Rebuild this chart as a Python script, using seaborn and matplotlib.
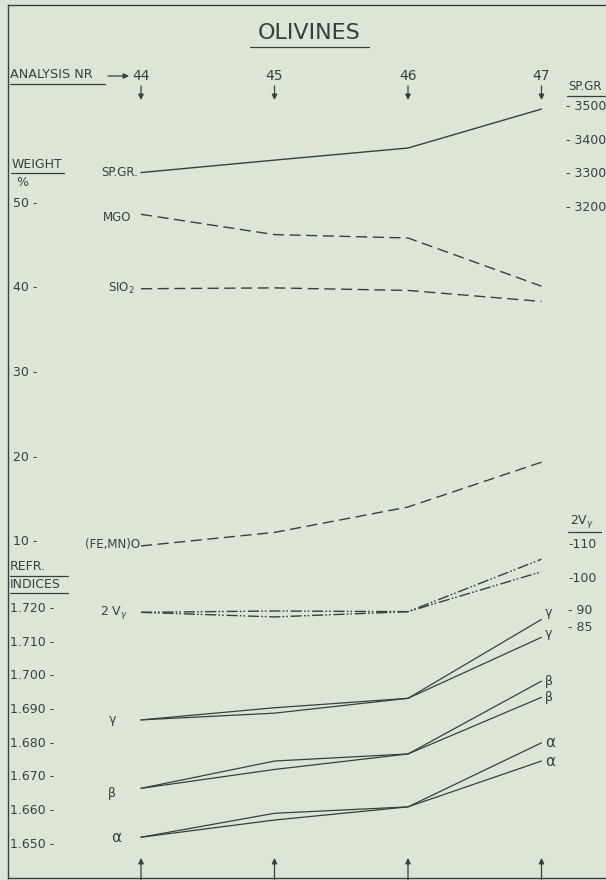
import matplotlib
matplotlib.use("Agg")
import matplotlib.pyplot as plt
import matplotlib.transforms as mtransforms
from matplotlib.lines import Line2D
import seaborn as sns

# analysis numbers along the top
analysis = [44, 45, 46, 47]

# specific gravity (right scale)
sp_gr = [3304, 3341, 3377, 3493]

# weight % (left scale)
mgo = [48.7, 46.3, 45.9, 40.2]
sio2 = [39.9, 40.0, 39.7, 38.4]
femno = [9.5, 11.1, 14.1, 19.4]

# optic angle 2V gamma, two determinations
two_v_a = [89.6, 90.0, 89.8, 105.7]
two_v_b = [89.6, 88.2, 89.8, 101.9]

# refractive indices, two determinations each
gamma_a = [1.6869, 1.6905, 1.6933, 1.7167]
gamma_b = [1.6869, 1.6889, 1.6933, 1.7114]
beta_a = [1.6666, 1.6747, 1.6768, 1.6984]
beta_b = [1.6666, 1.6722, 1.6768, 1.6936]
alpha_a = [1.6521, 1.6592, 1.6611, 1.6801]
alpha_b = [1.6521, 1.6572, 1.6611, 1.6747]

weight_ticks = [50, 40, 30, 20, 10]
refr_ticks = [1.720, 1.710, 1.700, 1.690, 1.680, 1.670, 1.660, 1.650]
spgr_ticks = [3500, 3400, 3300, 3200]
twov_ticks = [110, 100, 90, 85]
twov_labels = ["-110", "-100", "- 90", "- 85"]

INK = "#34423f"
PAPER = "#dde5d7"
W, H = 606, 880
L, R, T, B = 8, 612, 5, 878          # frame in pixels (right edge runs off the sheet)

sns.set_style("white")
plt.rcParams["font.family"] = ["DejaVu Sans"]

fig = plt.figure(figsize=(W / 100, H / 100), dpi=100, facecolor=PAPER)
ax = fig.add_axes([L / W, 1 - B / H, (R - L) / W, (B - T) / H])
ax.set_facecolor(PAPER)
ax_sg = ax.twinx()
ax_ri = ax.twinx()
ax_2v = ax.twinx()


def ylims(v1, p1, v2, p2):
    # value v1 sits at pixel row p1, v2 at p2
    s = (v1 - v2) / (p2 - p1)
    return v1 - (B - p1) * s, v1 + (p1 - T) * s


solid = dict(color=INK, lw=1.0, errorbar=None)
dash = (0, (8, 4))
dashdotdot = (0, (8, 1.6, 1.2, 1.4, 1.2, 2))

sns.lineplot(x=analysis, y=sp_gr, ax=ax_sg, linestyle="-", **solid)
sns.lineplot(x=analysis, y=mgo, ax=ax, linestyle=dash, **solid)
sns.lineplot(x=analysis, y=sio2, ax=ax, linestyle=dash, **solid)
sns.lineplot(x=analysis, y=femno, ax=ax, linestyle=dash, **solid)
for vals in (two_v_a, two_v_b):
    sns.lineplot(x=analysis, y=vals, ax=ax_2v, linestyle=dashdotdot, **solid)
for vals in (gamma_a, gamma_b, beta_a, beta_b, alpha_a, alpha_b):
    sns.lineplot(x=analysis, y=vals, ax=ax_ri, linestyle="-", color=INK, lw=0.9, errorbar=None)

s = 3 / (541.5 - 141)
ax.set_xlim(44 - (141 - L) * s, 44 + (R - 141) * s)
ax.set_ylim(*ylims(50, 203.3, 10, 541.7))
ax_sg.set_ylim(*ylims(3500, 106.7, 3200, 207.5))
ax_ri.set_ylim(*ylims(1.720, 608.3, 1.650, 844.3))
ax_2v.set_ylim(*ylims(90, 611, 110, 545))

for a in (ax, ax_sg, ax_ri, ax_2v):
    a.set_xticks([])
    a.set_yticks([])
    a.set_xlabel("")
    a.set_ylabel("")
    for sp in a.spines.values():
        sp.set_visible(False)
for side in ("left", "top", "bottom"):
    ax.spines[side].set_visible(True)
    ax.spines[side].set_color(INK)
    ax.spines[side].set_linewidth(1.0)

pix = mtransforms.Affine2D().scale(1 / W, -1 / H).translate(0, 1) + fig.transFigure
tk = dict(color=INK, fontsize=9, va="center")
arrow = dict(arrowstyle="-|>", color=INK, lw=0.9, mutation_scale=8, shrinkA=0, shrinkB=0)


def text(x, y, s, **kw):
    fig.text(x, y, s, transform=pix, **{**tk, **kw})


def uline(x0, x1, y):
    fig.add_artist(Line2D([x0, x1], [y, y], transform=pix, color=INK, lw=0.9))


# title and header row
text(309, 33, "OLIVINES", fontsize=16, ha="center")
uline(250, 369, 47)
text(10, 75, "ANALYSIS NR", fontsize=9.2)
uline(10, 105, 84)
ax.annotate("", xy=(129, 76), xytext=(108, 76), xycoords=pix, textcoords=pix, arrowprops=arrow)

top = mtransforms.blended_transform_factory(ax.transData, pix)
for n in analysis:
    ax.text(n, 76, str(n), transform=top, ha="center", va="center", color=INK, fontsize=10)
    ax.annotate("", xy=(n, 100), xytext=(n, 86), xycoords=top, textcoords=top, arrowprops=arrow)
    ax.annotate("", xy=(n, 858), xytext=(n, 880), xycoords=top, textcoords=top, arrowprops=arrow)

# left scales
text(12, 165, "WEIGHT")
uline(11, 64, 173)
text(16, 183, "%")
wt = mtransforms.blended_transform_factory(pix, ax.transData)
for v in weight_ticks:
    ax.text(13, v, f"{v} -", transform=wt, **tk)

text(10, 566, "REFR.")
uline(10, 68, 576)
text(10, 585, "INDICES")
uline(10, 68, 593)
ri = mtransforms.blended_transform_factory(pix, ax_ri.transData)
for v in refr_ticks:
    ax.text(10, v, f"{v:.3f} -", transform=ri, **tk)

# right scales
text(568, 87, "SP.GR", fontsize=8.5)
uline(567, 606, 96)
sg = mtransforms.blended_transform_factory(pix, ax_sg.transData)
for v in spgr_ticks:
    ax.text(566, v, f"- {v}", transform=sg, **tk)

text(570, 522, r"2V$_\gamma$", fontsize=9)
uline(568, 601, 532)
tv = mtransforms.blended_transform_factory(pix, ax_2v.transData)
for v, lab in zip(twov_ticks, twov_labels):
    ax.text(568, v, lab, transform=tv, **tk)

# line labels at the start
small = {**tk, "fontsize": 8.5}
ax.text(138, sp_gr[0], "SP.GR.", transform=sg, ha="right", **small)
ax.text(131, mgo[0] - 0.4, "MGO", transform=wt, ha="right", **small)
ax.text(135, sio2[0], "SIO$_2$", transform=wt, ha="right", **small)
ax.text(140, femno[0] + 0.2, "(FE,MN)O", transform=wt, ha="right", **small)
ax.text(128, two_v_a[0], r"2 V$_\gamma$", transform=tv, ha="right", **tk)
ax.text(116, gamma_a[0], "γ", transform=ri, ha="right", **tk)
ax.text(116, beta_a[0] - 0.0015, "β", transform=ri, ha="right", **tk)
ax.text(121, alpha_a[0], "α", transform=ri, ha="right", **{**tk, "fontsize": 11})

# line labels at the end
for vals, lab, dy in ((gamma_a, "γ", 0.002), (gamma_b, "γ", 0.001), (beta_a, "β", 0),
                      (beta_b, "β", 0), (alpha_a, "α", 0), (alpha_b, "α", 0)):
    ax.text(545, vals[-1] + dy, lab, transform=ri, ha="left",
            **{**tk, "fontsize": 11 if lab == "α" else 9})

fig.savefig("out.png", dpi=100, facecolor=PAPER)
